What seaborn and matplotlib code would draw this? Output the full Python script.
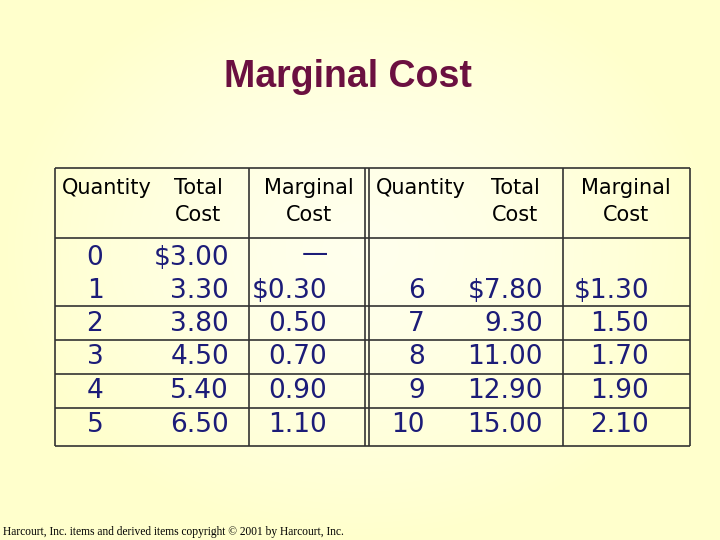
import numpy as np
import matplotlib
matplotlib.use("Agg")
import matplotlib.pyplot as plt
import seaborn as sns

# === DATA ===
quantity_left = ["0", "1", "2", "3", "4", "5"]
total_left = ["$3.00", "3.30", "3.80", "4.50", "5.40", "6.50"]
marginal_left = ["\u2014", "$0.30", "0.50", "0.70", "0.90", "1.10"]
quantity_right = ["", "6", "7", "8", "9", "10"]
total_right = ["", "$7.80", "9.30", "11.00", "12.90", "15.00"]
marginal_right = ["", "$1.30", "1.50", "1.70", "1.90", "2.10"]
headers = ["Quantity", "Total\nCost", "Marginal\nCost", "Quantity", "Total\nCost", "Marginal\nCost"]

sns.set_style("white")
plt.rcParams['font.family'] = ['DejaVu Sans']

fig = plt.figure(figsize=(7.2, 5.4), dpi=100)
ax = fig.add_axes([0, 0, 1, 1])
ax.set_xlim(0, 720)
ax.set_ylim(540, 0)
ax.axis("off")

# background gradient (pale yellow)
yy, xx = np.mgrid[0:540, 0:720]
d = np.sqrt(((xx - 360) / 360) ** 2 + ((yy - 250) / 290) ** 2)
d = np.clip(d, 0, 1)
c0 = np.array([1.0, 1.0, 0.93])
c1 = np.array([1.0, 1.0, 0.80])
img = c0 + (c1 - c0) * d[..., None] ** 1.5
ax.imshow(img, extent=[0, 720, 540, 0], aspect="auto", zorder=0)

ax.text(348, 77, "Marginal Cost", ha="center", va="center", fontsize=27,
        fontweight="bold", color="#6b1040", family=["Liberation Sans", "DejaVu Sans"])

# table grid
line_col = "#333333"
left, right, top, bottom = 55, 690, 168, 446
for y in [top, 238, 306, 340, 374, 408, bottom]:
    ax.hlines(y, left, right, color=line_col, lw=1.2)
for x in [left, 249, 365, 369, 563, right]:
    ax.vlines(x, top, bottom, color=line_col, lw=1.2)

# headers
hx = [62, 198, 309, 376, 515, 626]
hal = ["left", "center", "center", "left", "center", "center"]
for x, h, a in zip(hx, headers, hal):
    ax.text(x, 178, h, ha=a, va="top", fontsize=15, color="black",
            linespacing=1.45)

# body
row_y = [258, 291, 324, 357, 391, 425]
text_col = "#1c1c78"
cols = [(quantity_left, 95, "center"), (total_left, 229, "right"),
        (marginal_left, 327, "right"), (quantity_right, 425, "right"),
        (total_right, 543, "right"), (marginal_right, 649, "right")]
for values, x, a in cols:
    for y, v in zip(row_y, values):
        if v == "\u2014":
            ax.text(315, y - 4, v, ha="center", va="center", fontsize=19, color=text_col)
        else:
            ax.text(x, y, v, ha=a, va="center", fontsize=19, color=text_col)

ax.text(3, 532, "Harcourt, Inc. items and derived items copyright \u00a9 2001 by Harcourt, Inc.",
        ha="left", va="center", fontsize=8.3, color="black",
        family=["Liberation Serif", "DejaVu Serif"])

fig.savefig("out.png", dpi=100)
